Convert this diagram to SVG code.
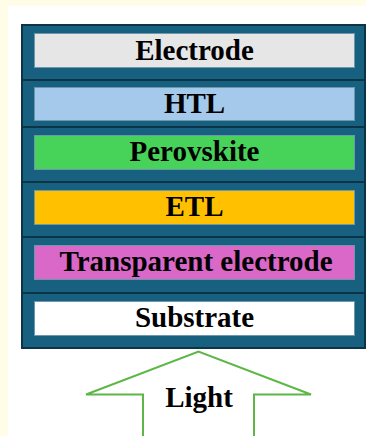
<svg xmlns="http://www.w3.org/2000/svg" width="366" height="436" viewBox="0 0 366 436">
  <style>
    .row { fill: #17607f; stroke: #0c3447; stroke-width: 2; }
    .layer { stroke: #6f97ab; stroke-width: 1; }
    .lbl { font-family: "Liberation Serif", "Times New Roman", serif; font-weight: bold; font-size: 29px; fill: #000; text-anchor: middle; }
    .light { fill: #ffffff; stroke: #5db646; stroke-width: 2; stroke-linejoin: miter; }
  </style>
  <!-- page background -->
  <rect x="0" y="0" width="366" height="436" fill="#fffde8"/>
  <rect x="8" y="6" width="358" height="430" fill="#ffffff"/>

  <!-- device stack, top to bottom -->
  <g id="electrode">
    <rect class="row" x="22" y="25" width="343" height="55"/>
    <rect class="layer" x="34.5" y="33.5" width="320" height="34" fill="#e6e6e6"/>
    <text class="lbl" x="194.5" y="59.5">Electrode</text>
  </g>
  <g id="htl">
    <rect class="row" x="22" y="80" width="343" height="47"/>
    <rect class="layer" x="34.5" y="87.5" width="320" height="33" fill="#a5c9ea"/>
    <text class="lbl" x="194.5" y="113">HTL</text>
  </g>
  <g id="perovskite">
    <rect class="row" x="22" y="127" width="343" height="55"/>
    <rect class="layer" x="34.5" y="135.5" width="320" height="34" fill="#47d35a"/>
    <text class="lbl" x="194.5" y="161">Perovskite</text>
  </g>
  <g id="etl">
    <rect class="row" x="22" y="182" width="343" height="55"/>
    <rect class="layer" x="34.5" y="190.5" width="320" height="34" fill="#ffc000"/>
    <text class="lbl" x="194.5" y="216">ETL</text>
  </g>
  <g id="transparent-electrode">
    <rect class="row" x="22" y="237" width="343" height="56"/>
    <rect class="layer" x="34.5" y="245.5" width="320" height="34" fill="#da68c9"/>
    <text class="lbl" x="196" y="271">Transparent electrode</text>
  </g>
  <g id="substrate">
    <rect class="row" x="22" y="293" width="343" height="55"/>
    <rect class="layer" x="34.5" y="301.5" width="320" height="34" fill="#ffffff"/>
    <text class="lbl" x="194.5" y="327">Substrate</text>
  </g>

  <!-- incoming light -->
  <g id="light">
    <polyline class="light" points="143,437 143,394.5 86,394.5 198.5,351.5 311,394.5 254,394.5 254,437"/>
    <text class="lbl" x="199" y="407">Light</text>
  </g>
</svg>
